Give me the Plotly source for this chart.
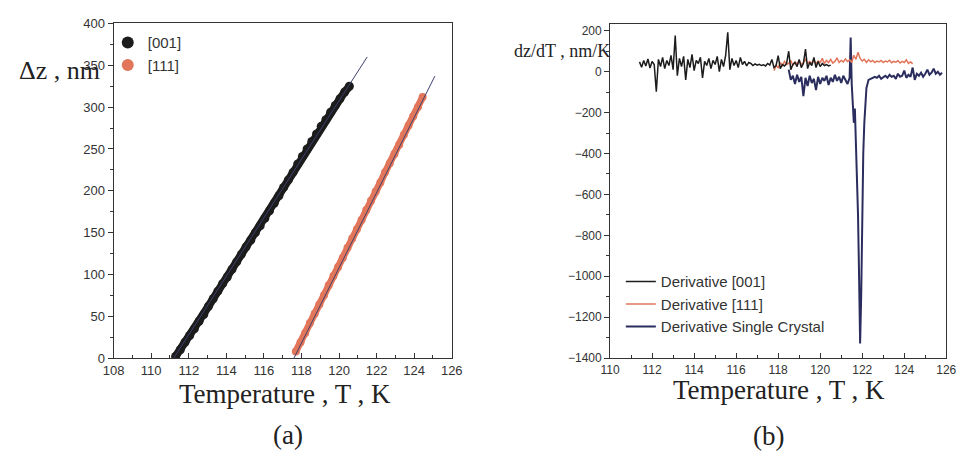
import plotly.graph_objects as go

W, H = 969, 458

# ---------------- Panel (a) data ----------------
t_001 = [111.3, 111.55, 111.8, 112.05, 112.3, 112.55, 112.8, 113.05, 113.3, 113.55,
         113.8, 114.05, 114.3, 114.55, 114.8, 115.05, 115.3, 115.55, 115.8, 116.05,
         116.3, 116.55, 116.8, 117.05, 117.3, 117.55, 117.8, 118.05, 118.3, 118.55,
         118.8, 119.05, 119.3, 119.55, 119.8, 120.05, 120.3, 120.55]
dz_001 = [2, 10, 19, 27, 35, 44, 52, 62, 71, 80,
          89, 97, 106, 115, 124, 133, 141, 150, 158, 167,
          176, 185, 194, 204, 213, 222, 232, 241, 250, 259,
          268, 277, 285, 294, 302, 310, 318, 325]

t_111 = [117.7, 117.95, 118.2, 118.45, 118.7, 118.95, 119.2, 119.45, 119.7, 119.95,
         120.2, 120.45, 120.7, 120.95, 121.2, 121.45, 121.7, 121.95, 122.2, 122.45,
         122.7, 122.95, 123.2, 123.45, 123.7, 123.95, 124.2, 124.45]
dz_111 = [8, 19, 30, 42, 53, 64, 75, 87, 98, 109,
          120, 132, 143, 154, 165, 177, 188, 199, 210, 222,
          233, 244, 255, 267, 278, 289, 300, 312]

fit_001_t = [111.2, 121.5]
fit_001_dz = [0, 360]
fit_111_t = [117.6, 125.1]
fit_111_dz = [0, 337]

# ---------------- Panel (b) data ----------------
t_d001 = [111.4, 111.5, 111.6, 111.7, 111.8, 111.9, 112.0, 112.1, 112.2, 112.3,
          112.4, 112.5, 112.6, 112.7, 112.8, 112.9, 113.0, 113.1, 113.2, 113.3,
          113.4, 113.5, 113.6, 113.7, 113.8, 113.9, 114.0, 114.1, 114.2, 114.3,
          114.4, 114.5, 114.6, 114.7, 114.8, 114.9, 115.0, 115.1, 115.2, 115.3,
          115.4, 115.5, 115.6, 115.7, 115.8, 115.9, 116.0, 116.1, 116.2, 116.3,
          116.4, 116.5, 116.6, 116.7, 116.8, 116.9, 117.0, 117.1, 117.2, 117.3,
          117.4, 117.5, 117.6, 117.7, 117.8, 117.9, 118.0, 118.1, 118.2, 118.3,
          118.4, 118.5, 118.6, 118.7, 118.8, 118.9, 119.0, 119.1, 119.2, 119.3,
          119.4, 119.5, 119.6, 119.7, 119.8, 119.9, 120.0, 120.1, 120.2, 120.3,
          120.4, 120.5]
d_001 = [48, 22, 55, 28, 62, 18, 50, 35, -98, 60,
         25, 70, 15, 55, 30, 80, 10, 177, -20, 65,
         25, 75, -40, 60, 20, 85, 5, 55, 40, 70,
         -30, 50, 30, 65, 15, 55, 35, 75, 0, 60,
         25, 80, 192, 10, 65, 30, 55, 20, 70, 35,
         50, 28, 45, 40, 30, 38, 32, 36, 30, 34,
         28, 40, 32, 60, 20, 30, 78, 15, 35, 28,
         40, 100, 10, 35, 45, 25, 60, 20, 40, 110,
         15, 45, 30, 70, 20, 50, 25, 40, 30, 35,
         28, 32]

t_d111 = [117.8, 117.9, 118.0, 118.1, 118.2, 118.3, 118.4, 118.5, 118.6, 118.7,
          118.8, 118.9, 119.0, 119.1, 119.2, 119.3, 119.4, 119.5, 119.6, 119.7,
          119.8, 119.9, 120.0, 120.1, 120.2, 120.3, 120.4, 120.5, 120.6, 120.7,
          120.8, 120.9, 121.0, 121.1, 121.2, 121.3, 121.4, 121.5, 121.6, 121.7,
          121.8, 121.9, 122.0, 122.1, 122.2, 122.3, 122.4, 122.5, 122.6, 122.7,
          122.8, 122.9, 123.0, 123.1, 123.2, 123.3, 123.4, 123.5, 123.6, 123.7,
          123.8, 123.9, 124.0, 124.1, 124.2, 124.3, 124.4]
d_111 = [5, 30, 20, 45, 30, 50, 35, 40, 55, 30,
         48, 38, 52, 35, 45, 60, 40, 50, 42, 55,
         38, 52, 45, 65, 40, 55, 45, 60, 42, 50,
         68, 45, 55, 48, 62, 50, 58, 45, 80, 60,
         95, 65, 52, 60, 45, 58, 48, 55, 45, 52,
         48, 55, 45, 52, 48, 56, 44, 50, 46, 54,
         42, 50, 45, 58, 40, 48, 38]

t_dsc = [118.5, 118.6, 118.7, 118.8, 118.9, 119.0, 119.1, 119.2, 119.3, 119.4,
         119.5, 119.6, 119.7, 119.8, 119.9, 120.0, 120.1, 120.2, 120.3, 120.4,
         120.5, 120.6, 120.7, 120.8, 120.9, 121.0, 121.1, 121.2, 121.3, 121.4,
         121.45, 121.5, 121.55, 121.6, 121.65, 121.7, 121.75, 121.8, 121.85, 121.9,
         121.95, 122.0, 122.05, 122.1, 122.15, 122.2, 122.3, 122.4, 122.5, 122.6,
         122.7, 122.8, 122.9, 123.0, 123.1, 123.2, 123.3, 123.4, 123.5, 123.6,
         123.7, 123.8, 123.9, 124.0, 124.1, 124.2, 124.3, 124.4, 124.5, 124.6,
         124.7, 124.8, 124.9, 125.0, 125.1, 125.2, 125.3, 125.4, 125.5, 125.6,
         125.7, 125.8]
d_sc = [10, -40, -20, -60, -15, -50, -25, -119, -30, -70,
        -20, -55, -35, -90, -25, -60, -30, -45, -20, -65,
        -30, -50, -15, -45, -25, -55, -20, -40, -60, -30,
        167, -60, -150, -250, -180, -330, -450, -700, -1000, -1329,
        -1100, -700, -400, -250, -150, -80, -40, -35, -30, -25,
        -30, -20, -35, -25, -20, -30, -15, -25, -20, -35,
        -10, -25, -20, 5, -30, -15, -25, 20, -40, -10,
        -20, -5, -25, -10, 10, -15, -5, 15, -10, 0,
        -15, -5]

x_ticks_a = [108, 110, 112, 114, 116, 118, 120, 122, 124, 126]
y_ticks_a = [0, 50, 100, 150, 200, 250, 300, 350, 400]
x_ticks_b = [110, 112, 114, 116, 118, 120, 122, 124, 126]
y_ticks_b = [-1400, -1200, -1000, -800, -600, -400, -200, 0, 200]

BLACK = "#1c1c1c"
ORANGE = "#e2765a"
NAVY = "#2b2d5e"
FIT = "#3c3f6e"
AX = "#333333"

fig = go.Figure()

# Panel (a): band (line) + markers
fig.add_trace(go.Scatter(x=t_001, y=dz_001, mode="lines", showlegend=False,
                         line=dict(color=BLACK, width=8), xaxis="x", yaxis="y"))
fig.add_trace(go.Scatter(x=t_001, y=dz_001, mode="markers", name="[001]",
                         marker=dict(color=BLACK, size=9),
                         xaxis="x", yaxis="y", legend="legend"))
fig.add_trace(go.Scatter(x=t_111, y=dz_111, mode="lines", showlegend=False,
                         line=dict(color=ORANGE, width=7), xaxis="x", yaxis="y"))
fig.add_trace(go.Scatter(x=t_111, y=dz_111, mode="markers", name="[111]",
                         marker=dict(color=ORANGE, size=8),
                         xaxis="x", yaxis="y", legend="legend"))
fig.add_trace(go.Scatter(x=fit_001_t, y=fit_001_dz, mode="lines", showlegend=False,
                         line=dict(color=FIT, width=1), xaxis="x", yaxis="y"))
fig.add_trace(go.Scatter(x=fit_111_t, y=fit_111_dz, mode="lines", showlegend=False,
                         line=dict(color=FIT, width=1), xaxis="x", yaxis="y"))

# Panel (b)
fig.add_trace(go.Scatter(x=t_dsc, y=d_sc, mode="lines", name="Derivative Single Crystal",
                         line=dict(color=NAVY, width=2), xaxis="x2", yaxis="y2",
                         legend="legend2", legendrank=3))
fig.add_trace(go.Scatter(x=t_d111, y=d_111, mode="lines", name="Derivative [111]",
                         line=dict(color=ORANGE, width=1.5), xaxis="x2", yaxis="y2",
                         legend="legend2", legendrank=2))
fig.add_trace(go.Scatter(x=t_d001, y=d_001, mode="lines", name="Derivative [001]",
                         line=dict(color=BLACK, width=1.5), xaxis="x2", yaxis="y2",
                         legend="legend2", legendrank=1))

tickfont_a = dict(family="Liberation Sans, Arial", size=13, color=AX)
tickfont_b = dict(family="Liberation Sans, Arial", size=12, color=AX)

def xax(domain, rng, tickvals, anchor, tf):
    return dict(domain=domain, range=rng, tickvals=tickvals, anchor=anchor,
                showgrid=False, zeroline=False, showline=True, linecolor=AX,
                linewidth=1, mirror=True, ticks="inside", ticklen=5, tickcolor=AX,
                minor=dict(ticks="inside", ticklen=3, dtick=1, tickcolor=AX),
                tickfont=tf)

def yax(domain, rng, tickvals, anchor, minor_dt, tf):
    return dict(domain=domain, range=rng, tickvals=tickvals, anchor=anchor,
                showgrid=False, zeroline=False, showline=True, linecolor=AX,
                linewidth=1, mirror=True, ticks="outside", ticklen=5, tickcolor=AX,
                minor=dict(ticks="outside", ticklen=3, dtick=minor_dt, tickcolor=AX),
                tickfont=tf)

def px(x):
    return x / W

def py(y):
    return 1 - y / H

serif = "Liberation Serif, Times New Roman"

def ann(text, x, y, size):
    return dict(text=text, x=px(x), y=py(y), xref="paper", yref="paper",
                xanchor="center", yanchor="middle", showarrow=False,
                font=dict(family=serif, size=size, color="#222"))

fig.update_layout(
    width=W, height=H, margin=dict(l=0, r=0, t=0, b=0),
    paper_bgcolor="white", plot_bgcolor="white",
    xaxis=xax([px(105), px(451)], [108, 126], x_ticks_a, "y", tickfont_a),
    yaxis=yax([py(363), py(17)], [0, 400], y_ticks_a, "x", 25, tickfont_a),
    xaxis2=xax([px(613), px(957)], [110, 126], x_ticks_b, "y2", tickfont_b),
    yaxis2=yax([py(363), py(18)], [-1400, 231], y_ticks_b, "x2", 100, tickfont_b),
    legend=dict(x=px(99), y=py(20), xanchor="left", yanchor="top",
                bgcolor="rgba(0,0,0,0)", font=dict(family="Liberation Sans, Arial", size=15, color=AX),
                itemsizing="constant", tracegroupgap=0),
    legend2=dict(x=px(624), y=py(267), xanchor="left", yanchor="top",
                 bgcolor="rgba(0,0,0,0)", font=dict(family="Liberation Sans, Arial", size=15, color=AX),
                 tracegroupgap=0, traceorder="normal"),
    showlegend=True,
    annotations=[
        ann("Δz , nm", 50, 66, 26),
        ann("dz/dT , nm/K", 564, 45, 18),
        ann("Temperature , T , K", 280, 400, 27),
        ann("Temperature , T , K", 786, 396, 27),
        ann("(a)", 283, 443, 27),
        ann("(b)", 775, 444, 27),
    ],
)

fig.write_html("out.html")
